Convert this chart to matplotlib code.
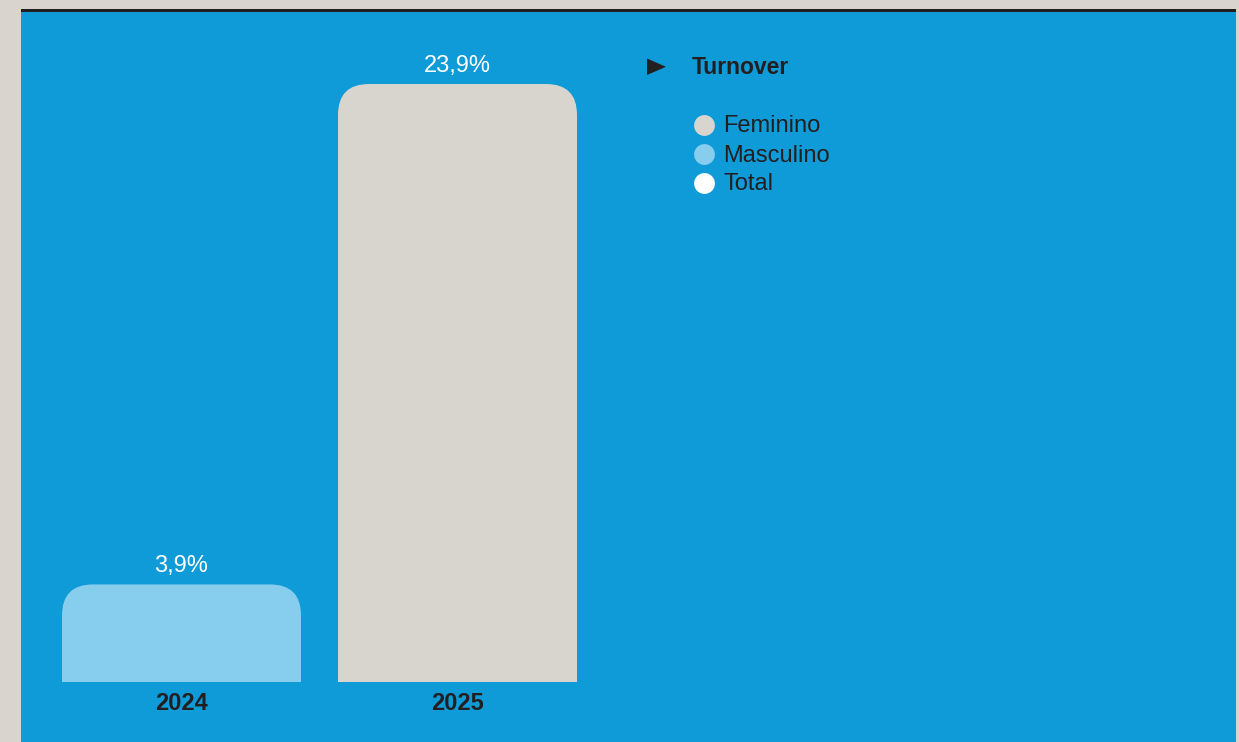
import matplotlib
matplotlib.use("Agg")
import matplotlib.pyplot as plt
from matplotlib.patches import FancyBboxPatch, Rectangle, Polygon
from matplotlib.lines import Line2D

# ---- data ----
years = ["2024", "2025"]
values = [3.9, 23.9]
value_labels = ["3,9%", "23,9%"]
bar_groups = ["Masculino", "Feminino"]
legend_title = "Turnover"
legend_items = ["Feminino", "Masculino", "Total"]

# ---- styles ----
BG = "#d9d5ce"
BLUE = "#0f9ad8"
LIGHT = "#87cdee"
GRAY = "#d8d5ce"
DARK = "#231f20"
group_colors = {"Feminino": GRAY, "Masculino": LIGHT, "Total": "#ffffff"}

plt.rcParams["font.family"] = ["Liberation Sans", "DejaVu Sans"]

W, H, DPI = 1239, 742, 100
fig = plt.figure(figsize=(W / DPI, H / DPI), dpi=DPI, facecolor=BG)

def fx(px):
    return px / W

def fy(py):
    return 1 - py / H

# panel axes
ax_l, ax_r, ax_t, ax_b = 21, 1236, 12, 742
ax = fig.add_axes([fx(ax_l), fy(ax_b), fx(ax_r - ax_l), (ax_b - ax_t) / H])
ax.set_facecolor(BLUE)
for s in ax.spines.values():
    s.set_visible(False)
ax.set_xticks([])
ax.set_yticks([])

# scales
x_ppu = 276.0                 # pixels per category step
y_ppu = 598.0 / 23.9          # pixels per percentage point
base_px = 682                 # baseline (from top)
cx0 = 181.5                   # first category centre (px)
ax.set_xlim((ax_l - cx0) / x_ppu, (ax_r - cx0) / x_ppu)
ax.set_ylim(-(ax_b - base_px) / y_ppu, (base_px - ax_t) / y_ppu)

# black line on top of panel
fig.patches.append(Rectangle((fx(ax_l), fy(12)), fx(ax_r - ax_l), 2.6 / H,
                             transform=fig.transFigure, facecolor=DARK,
                             edgecolor="none", zorder=5))

bar_w = 239 / x_ppu
R = 31  # corner radius in px
clip = Rectangle((-10, 0), 20, 100, transform=ax.transData)
for i, (v, g) in enumerate(zip(values, bar_groups)):
    rx = R / x_ppu
    ry = R / y_ppu
    p = FancyBboxPatch((i - bar_w / 2, -5), bar_w, v + 5,
                       boxstyle=f"round,pad=0,rounding_size={rx}",
                       mutation_aspect=ry / rx,
                       facecolor=group_colors[g], edgecolor="none", zorder=3)
    ax.add_patch(p)
    p.set_clip_path(clip)
    ax.annotate(value_labels[i], (i, v), xytext=(0, 18 * 72 / DPI),
                textcoords="offset points", ha="center", va="center",
                color="white", fontsize=17)
    ax.annotate(years[i], (i, 0), xytext=(0, -21 * 72 / DPI),
                textcoords="offset points", ha="center", va="center",
                color=DARK, fontsize=17, fontweight="bold")

# legend
fig.patches.append(Polygon([(fx(647), fy(58.5)), (fx(647), fy(75)), (fx(666), fy(66.8))],
                           closed=True, transform=fig.transFigure,
                           facecolor=DARK, edgecolor="none", zorder=5))
fig.text(fx(692), fy(68), legend_title, ha="left", va="center",
         fontsize=16.5, fontweight="bold", color=DARK)
for k, name in enumerate(legend_items):
    y = 124.5 + k * 29
    fig.add_artist(Line2D([fx(703.5)], [fy(y)], marker="o", markersize=15,
                          markerfacecolor=group_colors[name], markeredgewidth=0,
                          linestyle="none", transform=fig.transFigure))
    fig.text(fx(723), fy(y + 2), name, ha="left", va="center",
             fontsize=17, color=DARK)

fig.savefig("out.png", dpi=DPI, facecolor=BG)
